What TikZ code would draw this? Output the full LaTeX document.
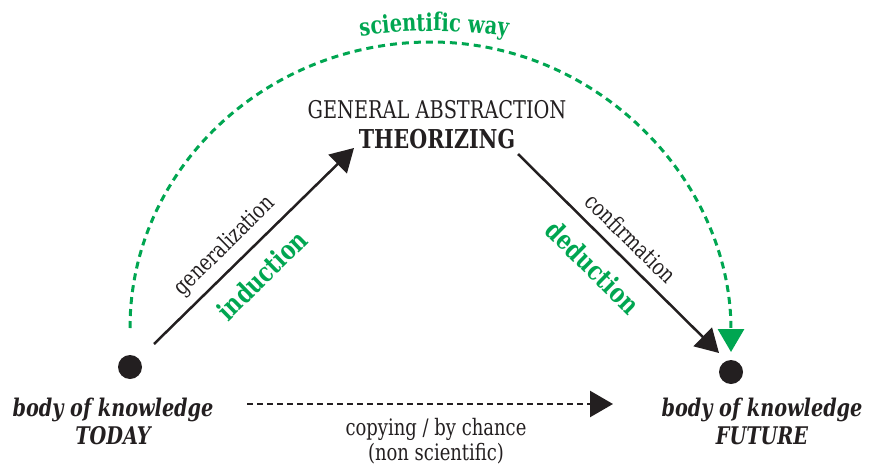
\documentclass[tikz,border=0pt]{standalone}
\usepackage{fontspec}
\setmainfont[FakeStretch=0.88]{DejaVu Serif Condensed}
\usetikzlibrary{arrows.meta,decorations.text}
\definecolor{sciGreen}{RGB}{0,166,81}
\definecolor{ink}{RGB}{35,31,32}
\newcommand{\swfont}{\fontsize{24.5}{24.5}\selectfont\bfseries}
\begin{document}
\begin{tikzpicture}[x=1pt,y=-1pt,
  dot/.style={circle,fill=ink,inner sep=0pt,minimum size=24pt},
  knowl/.style={font=\fontsize{24.3}{28}\selectfont\bfseries\itshape,text=ink,align=center,inner sep=0pt},
  plain/.style={font=\fontsize{22.7}{25}\selectfont,text=ink,align=center,inner sep=0pt},
  head/.style={font=\fontsize{24.4}{24}\selectfont,text=ink,inner sep=0pt},
  headbold/.style={font=\fontsize{26}{26}\selectfont\bfseries,text=ink,inner sep=0pt},
  edgelbl/.style={font=\fontsize{22.7}{23}\selectfont,text=ink,inner sep=0pt},
  greenlbl/.style={font=\fontsize{26.8}{27}\selectfont\bfseries,text=sciGreen,inner sep=0pt},
  flow/.style={draw=ink,line width=2.5pt,-{Triangle[length=23pt,width=26pt]}},
  chance/.style={flow,dash pattern=on 6pt off 4pt},
  sciway/.style={draw=sciGreen,line width=3pt,dash pattern=on 7pt off 5pt,
    -{Triangle[length=23pt,width=26pt,fill=sciGreen]}},
]
\useasboundingbox (0,0) rectangle (870,471);

% the two bodies of knowledge
\node[dot] (today) at (130,367) {};
\node[dot] (future) at (731,372) {};
\node[knowl] (todaytxt) at (113,421) {body of knowledge\\TODAY};
\node[knowl] (futuretxt) at (762,421) {body of knowledge\\FUTURE};

% the theory at the top
\node[head,anchor=base] (abstr) at (437,118) {GENERAL ABSTRACTION};
\node[headbold,anchor=base] (theory) at (437,148) {THEORIZING};

% end points of the arrows
\coordinate (indS) at (154,344);
\coordinate (indE) at (354,148);
\coordinate (dedS) at (518,154);
\coordinate (dedE) at (719,353);
\coordinate (chS) at (247,404);
\coordinate (chE) at (613,404);
\coordinate (sciS) at (130,328);
\coordinate (sciTop) at (431,42);
\coordinate (sciE) at (731,352);

% induction and deduction
\draw[flow] (indS) -- (indE);
\draw[flow] (dedS) -- (dedE);
\node[edgelbl,rotate=44.4] (gen) at (225,246) {generalization};
\node[greenlbl,rotate=44.4] (ind) at (262,275) {induction};
\node[edgelbl,rotate=-44.6] (conf) at (631,238) {confirmation};
\node[greenlbl,rotate=-44.6] (ded) at (593,267) {deduction};

% the shortcut below
\draw[chance] (chS) -- (chE);
\node[plain,anchor=base] (copy) at (436,435) {copying / by chance};
\node[plain,anchor=base] (nonsci) at (436,460) {(non scientific)};

% the scientific way over the top
\draw[sciway] (sciS) .. controls (130,170) and (265,42) .. (sciTop)
  .. controls (597,42) and (731,180) .. (sciE);
\path[decorate,decoration={text along path,text={|\swfont|scientific way},
  text align=center,text color=sciGreen}]
  (434,531) ++(-110:500) arc[start angle=-110,end angle=-70,radius=500];
\end{tikzpicture}
\end{document}
